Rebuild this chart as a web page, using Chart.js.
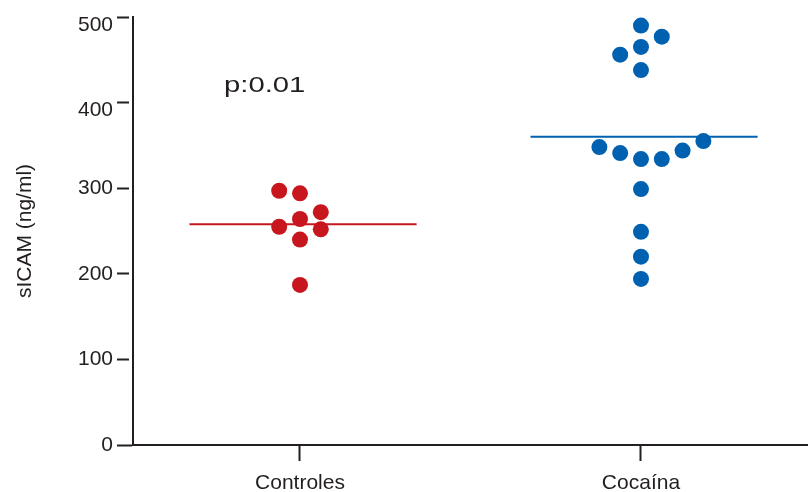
<!DOCTYPE html>
<html>
<head>
<meta charset="utf-8">
<script src="https://cdn.jsdelivr.net/npm/chart.js@4/dist/chart.umd.min.js"></script>
<style>
    html, body { margin: 0; padding: 0; background: #fff; }
    #wrap { width: 808px; height: 492px; }
</style>
</head>
<body>
<div id="wrap"><canvas id="myChart"></canvas></div>
<script>
// Grupos y valores de sICAM (ng/ml)
const grupos = ["Controles", "Cocaína"];
const controles = [297, 294, 272, 264, 255, 252, 240, 187];
const cocaina = [490, 477, 465, 456, 438, 355, 348, 344, 341, 334, 334, 299, 249, 220, 194];
const medias = [258, 360];
const yTicks = [0, 100, 200, 300, 400, 500];
const pValor = "p:0.01";

// columna de cada punto dentro del enjambre (-2..3)
const colControles = [-1, 0, 1, 0, -1, 1, 0, 0];
const colCocaina = [0, 1, 0, -1, 0, 3, -2, 2, -1, 0, 1, 0, 0, 0, 0];

const rojo = "rgb(200, 22, 30)";
const azul = "rgb(0, 97, 176)";
const tinta = "#231f20";
const fuente = "'Liberation Sans', Arial, sans-serif";

const paso = 0.061;       // separación entre columnas
const mediaAncho = 0.333; // media longitud de la línea de la media
const mediaCorr = 0.009;  // la línea queda un pelín a la derecha

function puntos(valores, cols, centro) {
    return valores.map((v, i) => ({ x: centro + cols[i] * paso, y: v }));
}
function lineaMedia(m, centro) {
    const c = centro + mediaCorr;
    return [{ x: c - mediaAncho, y: m }, { x: c + mediaAncho, y: m }];
}

// texto del p, algo estirado a lo ancho
const textoP = {
    id: "textoP",
    afterDraw(chart) {
        const ctx = chart.ctx;
        ctx.save();
        ctx.translate(224, 92);
        ctx.scale(1.33, 1);
        ctx.font = "22px " + fuente;
        ctx.fillStyle = tinta;
        ctx.textBaseline = "alphabetic";
        ctx.fillText(pValor, 0, 0);
        ctx.restore();
    }
};

const ctx = document.getElementById("myChart").getContext("2d");
const myChart = new Chart(ctx, {
    type: "scatter",
    data: {
        datasets: [
            {
                type: "line",
                data: lineaMedia(medias[0], 1),
                borderColor: rojo,
                borderWidth: 2,
                pointRadius: 0,
            },
            {
                type: "line",
                data: lineaMedia(medias[1], 2),
                borderColor: azul,
                borderWidth: 2,
                pointRadius: 0,
            },
            {
                label: grupos[0],
                data: puntos(controles, colControles, 1),
                backgroundColor: rojo,
                borderWidth: 0,
                pointRadius: 8,
            },
            {
                label: grupos[1],
                data: puntos(cocaina, colCocaina, 2),
                backgroundColor: azul,
                borderWidth: 0,
                pointRadius: 8,
            },
        ],
    },
    options: {
        responsive: true,
        maintainAspectRatio: false,
        animation: false,
        layout: {
            autoPadding: false,
            padding: { top: 17, right: 0, bottom: 0, left: 0 },
        },
        plugins: {
            legend: { display: false },
            tooltip: { enabled: false },
        },
        scales: {
            x: {
                type: "linear",
                min: 0.5103,
                max: 2.4898,
                afterBuildTicks: (scale) => {
                    scale.ticks = grupos.map((g, i) => ({ value: i + 1 }));
                },
                afterFit: (scale) => { scale.height = 47; },
                ticks: {
                    callback: (v) => grupos[Math.round(v) - 1],
                    color: tinta,
                    font: { family: fuente, size: 21 },
                    padding: 10,
                    maxRotation: 0,
                },
                grid: {
                    drawOnChartArea: false,
                    tickLength: 16,
                    tickColor: tinta,
                    tickWidth: 2,
                },
                border: { display: true, color: tinta, width: 2 },
            },
            y: {
                min: 0,
                max: 500,
                afterBuildTicks: (scale) => {
                    scale.ticks = yTicks.map((v) => ({ value: v }));
                },
                afterFit: (scale) => {
                    scale.width = 133;
                    scale.paddingTop = 0;
                    scale.paddingBottom = 0;
                },
                ticks: {
                    // las dos etiquetas de arriba van un poco por debajo de su marca
                    callback: (v) => v >= 400 ? ["", String(v)] : String(v),
                    color: tinta,
                    font: (c) => ({
                        family: fuente,
                        size: 21,
                        lineHeight: c.tick && c.tick.value >= 400 ? 0.76 : 1.2,
                    }),
                    padding: 4,
                },
                grid: {
                    drawOnChartArea: false,
                    tickLength: 16,
                    tickColor: tinta,
                    tickWidth: 2,
                    tickBorderDash: (c) => c.tick && c.tick.value === 0 ? [] : [12, 100],
                },
                border: { display: true, color: tinta, width: 2 },
                title: {
                    display: true,
                    text: "sICAM (ng/ml)",
                    color: tinta,
                    font: { family: fuente, size: 21 },
                    padding: { top: 13, bottom: 0 },
                },
            },
        },
    },
    plugins: [textoP],
});
</script>
</body>
</html>
